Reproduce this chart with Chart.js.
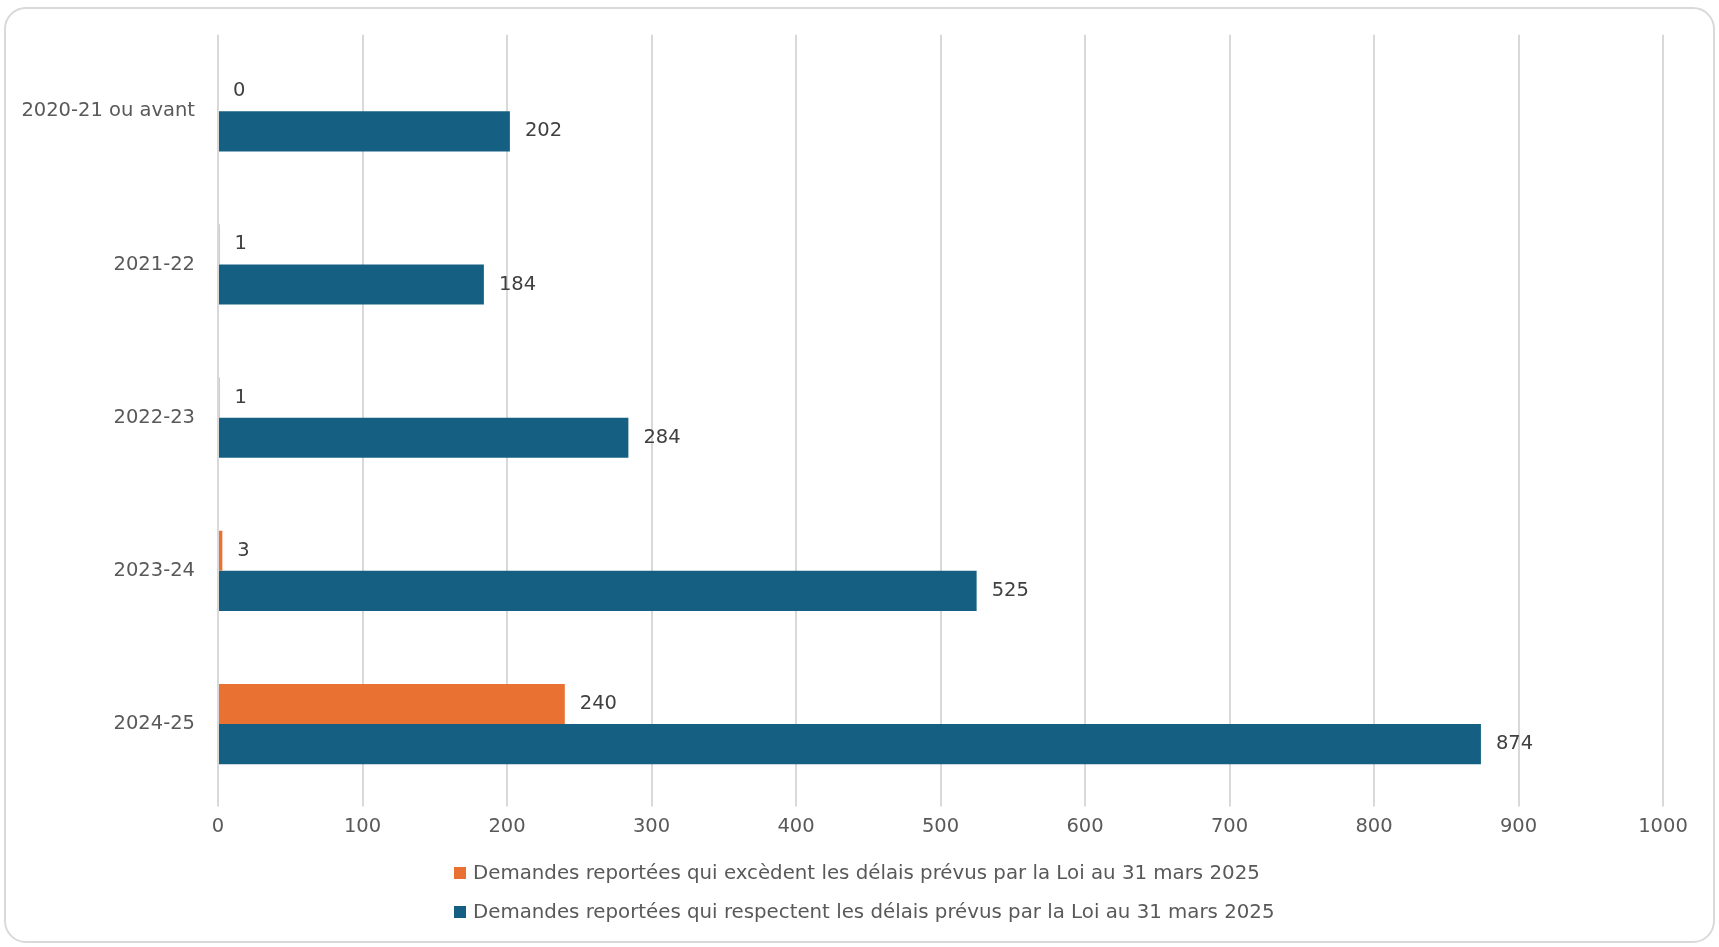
<!DOCTYPE html>
<html lang="fr">
<head>
<meta charset="utf-8">
<title>Demandes reportées</title>
<script src="https://cdn.jsdelivr.net/npm/chart.js@4/dist/chart.umd.min.js"></script>
<style>
    html, body { margin: 0; padding: 0; background: #fff; }
    body { width: 1719px; height: 947px; position: relative; overflow: hidden; }
    #card {
        position: absolute; left: 4px; top: 7px; width: 1707px; height: 932px;
        border: 2px solid #d9d9d9; border-radius: 22px; pointer-events: none;
    }
    #wrap { position: absolute; left: 0; top: 0; width: 1719px; height: 947px; }
</style>
</head>
<body>
<div id="wrap"><canvas id="reportChart"></canvas></div>
<div id="card"></div>
<script>
var categories = ['2020-21 ou avant', '2021-22', '2022-23', '2023-24', '2024-25'];
var seriesNames = [
    'Demandes reportées qui excèdent les délais prévus par la Loi au 31 mars 2025',
    'Demandes reportées qui respectent les délais prévus par la Loi au 31 mars 2025'
];
var seriesColors = ['#e97132', '#156082'];
var exceedValues = [0, 1, 1, 3, 240];
var respectValues = [202, 184, 284, 525, 874];
var xTicks = [0, 100, 200, 300, 400, 500, 600, 700, 800, 900, 1000];

var FONT_FAMILY = '"DejaVu Sans", "Open Sans", sans-serif';
var FONT_SIZE = 19.5;

// values written just past the end of each bar
var barValues = {
    id: 'barValues',
    afterDatasetsDraw: function(chart) {
        var ctx = chart.ctx;
        ctx.save();
        ctx.font = FONT_SIZE + 'px ' + FONT_FAMILY;
        ctx.fillStyle = '#404040';
        ctx.textAlign = 'left';
        ctx.textBaseline = 'middle';
        chart.data.datasets.forEach(function(ds, i) {
            chart.getDatasetMeta(i).data.forEach(function(bar, j) {
                ctx.fillText(String(ds.data[j]), bar.x + 15, bar.y);
            });
        });
        ctx.restore();
    }
};

// legend stacked on two rows, block centred under the card
var stackedLegend = {
    id: 'stackedLegend',
    afterDraw: function(chart) {
        var ctx = chart.ctx;
        var rowsY = [873, 912];
        var box = 12, gap = 7;
        ctx.save();
        ctx.font = '19.8px ' + FONT_FAMILY;
        ctx.textBaseline = 'middle';
        ctx.textAlign = 'left';
        var items = chart.data.datasets;
        var maxW = 0;
        items.forEach(function(ds) {
            maxW = Math.max(maxW, box + gap + ctx.measureText(ds.label).width);
        });
        var left = Math.round(864 - maxW / 2);
        items.forEach(function(ds, i) {
            var y = rowsY[i];
            ctx.fillStyle = ds.backgroundColor;
            ctx.fillRect(left, y - box / 2, box, box);
            ctx.fillStyle = '#595959';
            ctx.fillText(ds.label, left + box + gap, y + 1);
        });
        ctx.restore();
    }
};

new Chart(document.getElementById('reportChart'), {
    type: 'bar',
    data: {
        labels: categories,
        datasets: [{
            label: seriesNames[0],
            data: exceedValues,
            backgroundColor: seriesColors[0]
        }, {
            label: seriesNames[1],
            data: respectValues,
            backgroundColor: seriesColors[1]
        }]
    },
    options: {
        indexAxis: 'y',
        responsive: true,
        maintainAspectRatio: false,
        animation: false,
        datasets: { bar: { categoryPercentage: 0.524, barPercentage: 1 } },
        layout: { padding: { top: 29, left: 10, right: 56, bottom: 99 } },
        scales: {
            x: {
                min: xTicks[0],
                max: xTicks[xTicks.length - 1],
                afterBuildTicks: function(scale) {
                    scale.ticks = xTicks.map(function(v) { return { value: v }; });
                },
                grid: { color: '#d9d9d9', lineWidth: 2, drawTicks: true, tickLength: 6 },
                border: { display: false },
                ticks: {
                    color: '#595959',
                    font: { family: FONT_FAMILY, size: FONT_SIZE },
                    padding: 9,
                    callback: function(v) { return String(v); }
                }
            },
            y: {
                grid: { display: false, drawTicks: false },
                border: { display: false },
                ticks: { color: '#595959', font: { family: FONT_FAMILY, size: FONT_SIZE }, padding: 23 },
                afterFit: function(scale) { scale.width = 208; }
            }
        },
        plugins: {
            legend: { display: false },
            tooltip: { enabled: false }
        }
    },
    plugins: [barValues, stackedLegend]
});
</script>
</body>
</html>
